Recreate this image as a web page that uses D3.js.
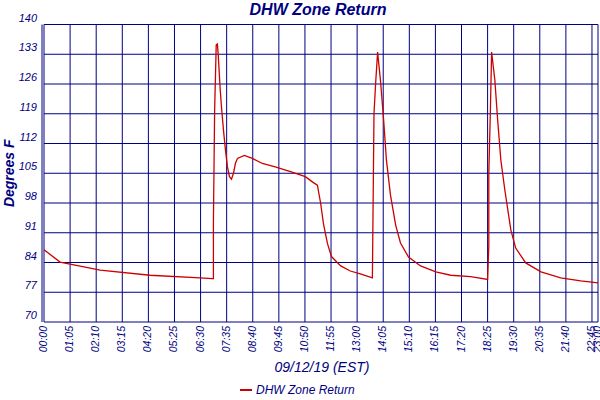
<!DOCTYPE html>
<html><head><meta charset="utf-8">
<script src="https://cdn.jsdelivr.net/npm/d3@7"></script>
<style>body{margin:0;background:#fff}text{font-family:"Liberation Sans",Arial,sans-serif;font-style:italic}</style>
</head><body><div id="chart"></div>
<script>
// minutes since midnight, degrees F
const minutes = [0,40,140,264,389,419,422,422,425,429,432,434,439,442,447,452,457,462,467,472,477,482,499,519,544,576,614,651,671,681,689,696,706,716,739,763,788,818,822,826,831,838,846,853,863,876,888,908,938,976,1013,1063,1105,1108,1108,1112,1115,1123,1130,1138,1148,1163,1175,1200,1238,1287,1337,1380];
const temps   = [87,84.1,82.2,81,80.4,80.2,80.2,93.4,119.6,135.2,135.4,132.8,124.6,120.7,115.2,110.5,106.5,104.2,103.6,105,107.4,108.5,109.2,108.5,107.3,106.5,105.4,104.2,102.8,102.2,98,93.2,88.5,85.4,83.2,82,81.3,80.4,119,126,133.5,127,117.6,108.1,99.9,92.8,88.6,85.3,83.2,81.8,81,80.7,80,88,105,120,133.5,127,117.6,108.1,101,91.6,87.4,83.9,81.8,80.4,79.7,79.2];
const xTicks = [0,65,130,195,260,325,390,455,520,585,650,715,780,845,910,975,1040,1105,1170,1235,1300,1365,1380];
const yTicks = [70,77,84,91,98,105,112,119,126,133,140];

const width = 600, height = 400;
const marginLeft = 44, marginRight = 2, marginTop = 24.5, marginBottom = 78;
const navy = "#000080";

const x = d3.scaleLinear([0, 1380], [marginLeft, width - marginRight]);
const y = d3.scaleLinear([70, 140], [height - marginBottom, marginTop]);
const fmt = m => String(Math.floor(m / 60)).padStart(2, "0") + ":" + String(m % 60).padStart(2, "0");

const svg = d3.select("#chart").append("svg")
    .attr("width", width).attr("height", height);

// grid
svg.append("g").selectAll("line").data(xTicks).join("line")
    .attr("x1", d => x(d)).attr("x2", d => x(d))
    .attr("y1", y(70)).attr("y2", y(140))
    .attr("stroke", navy).attr("stroke-width", 1);
svg.append("g").selectAll("line").data(yTicks).join("line")
    .attr("x1", x(0)).attr("x2", x(1380))
    .attr("y1", d => y(d)).attr("y2", d => y(d))
    .attr("stroke", navy).attr("stroke-width", 1);
svg.append("line").attr("x1", x(0) - 2).attr("x2", x(0) - 2)
    .attr("y1", y(70)).attr("y2", y(140)).attr("stroke", navy);

// tick labels
svg.append("g").selectAll("text").data(yTicks).join("text")
    .attr("x", 37).attr("y", d => y(d) - 3)
    .attr("text-anchor", "end").attr("font-size", 11).attr("fill", navy)
    .text(d => d);
svg.append("g").selectAll("text").data(xTicks).join("text")
    .attr("transform", d => `translate(${x(d) + 3},${y(70) + 4}) rotate(-90)`)
    .attr("text-anchor", "end").attr("font-size", 10.5).attr("fill", navy)
    .text(d => fmt(d));

// titles
svg.append("text").attr("x", 318).attr("y", 15).attr("text-anchor", "middle")
    .attr("font-size", 16).attr("font-weight", "bold").attr("fill", navy).text("DHW Zone Return");
svg.append("text").attr("transform", `translate(14,${(y(70) + y(140)) / 2}) rotate(-90)`)
    .attr("text-anchor", "middle").attr("font-size", 14).attr("font-weight", "bold")
    .attr("fill", navy).text("Degrees F");
svg.append("text").attr("x", 322).attr("y", 372).attr("text-anchor", "middle")
    .attr("font-size", 14).attr("fill", navy).text("09/12/19 (EST)");

// series
const line = d3.line().x((d, i) => x(minutes[i])).y(d => y(d));
svg.append("path").attr("d", line(temps))
    .attr("fill", "none").attr("stroke", "#cc0000").attr("stroke-width", 1.3);

// legend
svg.append("line").attr("x1", 240).attr("x2", 252).attr("y1", 390).attr("y2", 390)
    .attr("stroke", "#cc0000").attr("stroke-width", 2);
svg.append("text").attr("x", 256).attr("y", 394).attr("font-size", 12)
    .attr("fill", navy).text("DHW Zone Return");
</script></body></html>
